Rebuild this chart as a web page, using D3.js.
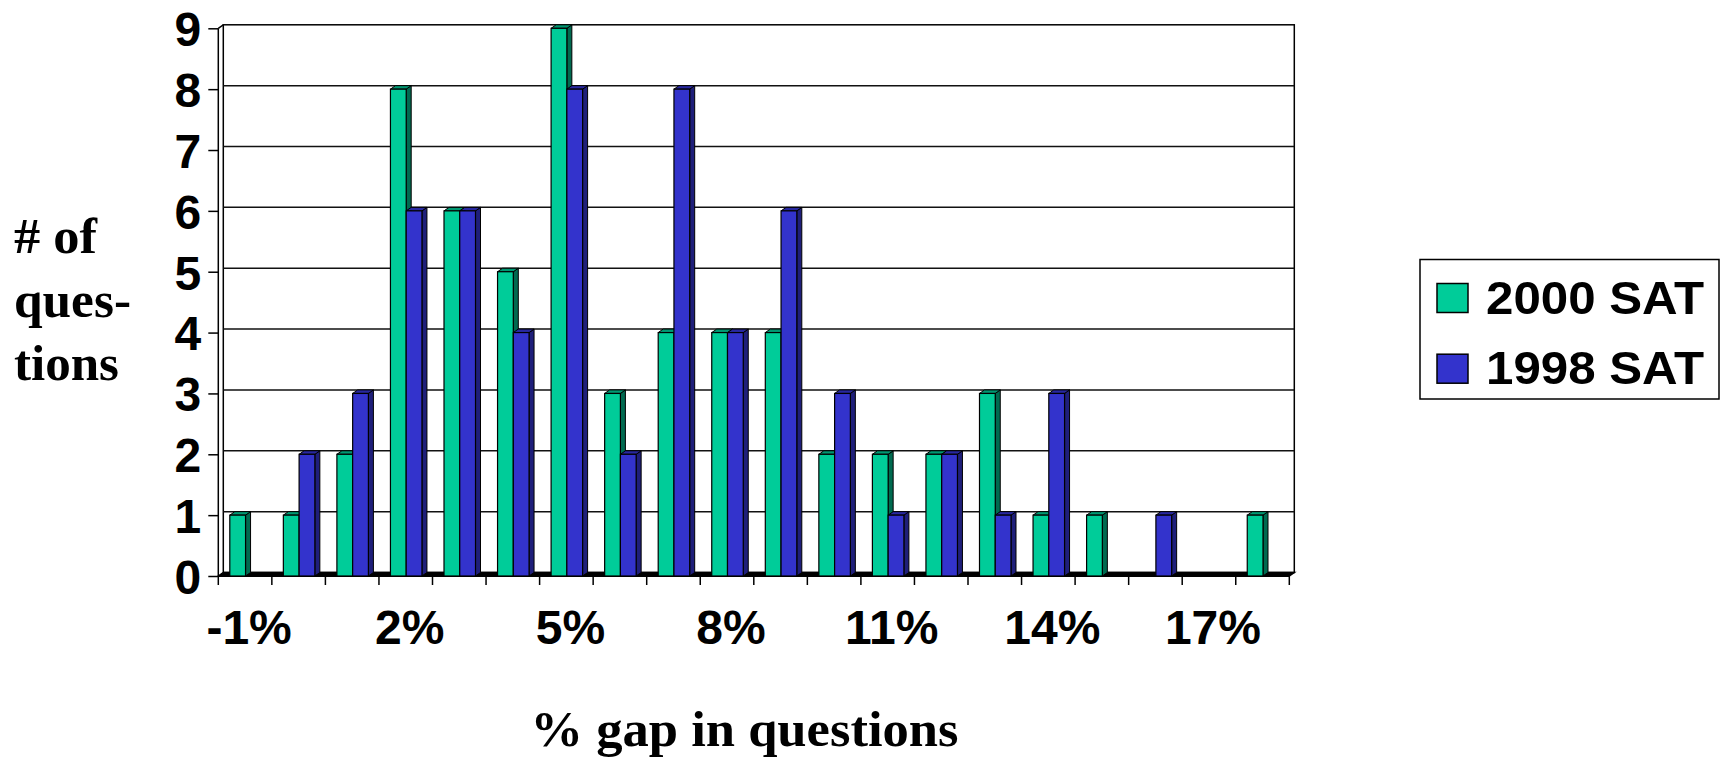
<!DOCTYPE html>
<html>
<head>
<meta charset="utf-8">
<script src="https://cdn.jsdelivr.net/npm/d3@7"></script>
<style>
  html, body { margin: 0; padding: 0; background: #fff; }
  svg { display: block; }
</style>
</head>
<body>
<svg id="chart" width="1729" height="761"></svg>
<script>
// ---- data ----
const categories = ["-1%","0%","1%","2%","3%","4%","5%","6%","7%","8%","9%","10%","11%","12%","13%","14%","15%","16%","17%","18%"];
const seriesNames = ["2000 SAT", "1998 SAT"];
const sat2000 = [1,1,2,8,6,5,9,3,4,4,4,2,2,2,3,1,1,0,0,1];
const sat1998 = [0,2,3,6,6,4,8,2,8,4,6,3,1,2,1,3,0,1,0,0];
const yTicks = [0,1,2,3,4,5,6,7,8,9];
const xTickLabels = ["-1%","2%","5%","8%","11%","14%","17%"];
const yTitleLines = ["# of", "ques-", "tions"];
const xTitle = "% gap in questions";

// ---- styling ----
const colors = {
  "2000 SAT": { front: "#00CC99", side: "#006A50", top: "#009872" },
  "1998 SAT": { front: "#3333CC", side: "#1F1F7A", top: "#2828A0" }
};
const yTitleWidths = [83, 117, 105];
const DX = 5, DY = 3.5;           // 3D depth offset
const svg = d3.select("#chart");

const x = d3.scaleBand().domain(categories).range([218.3, 1289.3]).padding(0);
const xs = d3.scaleBand().domain(seriesNames).range([11.5, 43]).padding(0);
const y = d3.scaleLinear().domain([0, 9]).range([576, 28.3]);

const plotL = x.range()[0], plotR = x.range()[1];
const y0 = y(0);

// back wall
const back = svg.append("g");
back.append("rect")
  .attr("x", plotL + DX).attr("y", y(9) - DY)
  .attr("width", plotR - plotL).attr("height", y0 - y(9))
  .attr("fill", "#fff").attr("stroke", "#000").attr("stroke-width", 1.5);
back.selectAll("line.grid").data(yTicks.filter(d => d > 0 && d < 9)).join("line")
  .attr("class", "grid")
  .attr("x1", plotL + DX).attr("x2", plotR + DX)
  .attr("y1", d => y(d) - DY).attr("y2", d => y(d) - DY)
  .attr("stroke", "#111").attr("stroke-width", 1.5);

back.append("line")
  .attr("x1", plotL).attr("x2", plotL)
  .attr("y1", y(9)).attr("y2", y0)
  .attr("stroke", "#000").attr("stroke-width", 1.5);
back.append("line")
  .attr("x1", plotL).attr("x2", plotL + DX)
  .attr("y1", y(9)).attr("y2", y(9) - DY)
  .attr("stroke", "#000").attr("stroke-width", 1.5);

// floor
back.append("path")
  .attr("d", `M${plotL},${y0} L${plotL + DX},${y0 - DY} L${plotR + DX},${y0 - DY} L${plotR},${y0} Z`)
  .attr("fill", "#000").attr("stroke", "#000").attr("stroke-width", 1.5);

// y axis
const yAxis = d3.axisLeft(y).tickValues(yTicks).tickSize(10).tickPadding(7).tickFormat(d3.format("d"));
const gy = svg.append("g").attr("transform", `translate(${plotL},0)`).call(yAxis);
gy.select(".domain").remove();
gy.selectAll(".tick line").attr("stroke", "#000").attr("stroke-width", 1.5);
gy.selectAll(".tick text")
  .attr("fill", "#000")
  .style("font-family", "'Liberation Sans', Arial, sans-serif")
  .style("font-weight", "bold")
  .style("font-size", "48px")
  .attr("dy", "0.36em");

// x axis ticks at category boundaries
const boundaries = categories.map(c => x(c)).concat([plotR]);
svg.append("g").selectAll("line").data(boundaries).join("line")
  .attr("x1", d => d).attr("x2", d => d)
  .attr("y1", y0).attr("y2", y0 + 9)
  .attr("stroke", "#000").attr("stroke-width", 1.5);
svg.append("line")
  .attr("x1", plotL).attr("x2", plotR).attr("y1", y0).attr("y2", y0)
  .attr("stroke", "#000").attr("stroke-width", 2);

// x tick labels
svg.append("g").selectAll("text").data(xTickLabels).join("text")
  .attr("x", d => x(d) + x.bandwidth() / 2 + 4)
  .attr("y", 644)
  .attr("text-anchor", "middle")
  .style("font-family", "'Liberation Sans', Arial, sans-serif")
  .style("font-weight", "bold")
  .style("font-size", "48px")
  .text(d => d);

// bars (3D)
const barData = [];
categories.forEach((c, i) => {
  [["2000 SAT", sat2000[i]], ["1998 SAT", sat1998[i]]].forEach(([s, v]) => {
    if (v > 0) barData.push({ cat: c, series: s, value: v });
  });
});
const bars = svg.append("g");
barData.forEach(d => {
  const xa = x(d.cat) + xs(d.series);
  const xb = xa + xs.bandwidth();
  const yt = y(d.value);
  const c = colors[d.series];
  const g = bars.append("g");
  g.append("path")
    .attr("d", `M${xb},${yt} L${xb + DX},${yt - DY} L${xb + DX},${y0 - DY} L${xb},${y0} Z`)
    .attr("fill", c.side).attr("stroke", "#000").attr("stroke-width", 1).attr("stroke-linejoin", "round");
  g.append("path")
    .attr("d", `M${xa},${yt} L${xa + DX},${yt - DY} L${xb + DX},${yt - DY} L${xb},${yt} Z`)
    .attr("fill", c.top).attr("stroke", "#000").attr("stroke-width", 1).attr("stroke-linejoin", "round");
  g.append("rect")
    .attr("x", xa).attr("y", yt)
    .attr("width", xb - xa).attr("height", y0 - yt)
    .attr("fill", c.front).attr("stroke", "#000").attr("stroke-width", 1.2);
});

// y title
svg.append("g").selectAll("text").data(yTitleLines).join("text")
  .attr("x", 14)
  .attr("y", (d, i) => 253 + i * 63.5)
  .attr("textLength", (d, i) => yTitleWidths[i])
  .attr("lengthAdjust", "spacingAndGlyphs")
  .style("font-family", "'Liberation Serif', 'Times New Roman', serif")
  .style("font-weight", "bold")
  .style("font-size", "51px")
  .text(d => d);

// x title
svg.append("text")
  .attr("x", 744.5).attr("y", 746)
  .attr("text-anchor", "middle")
  .attr("textLength", 428)
  .attr("lengthAdjust", "spacingAndGlyphs")
  .style("font-family", "'Liberation Serif', 'Times New Roman', serif")
  .style("font-weight", "bold")
  .style("font-size", "51px")
  .text(xTitle);

// legend
const leg = svg.append("g");
leg.append("rect")
  .attr("x", 1420).attr("y", 259.5).attr("width", 299).attr("height", 139.5)
  .attr("fill", "#fff").attr("stroke", "#000").attr("stroke-width", 1.5);
const legItems = leg.selectAll("g.item").data(seriesNames).join("g")
  .attr("class", "item")
  .attr("transform", (d, i) => `translate(0,${i * 70.7})`);
legItems.append("rect")
  .attr("x", 1437).attr("y", 283.5).attr("width", 31).attr("height", 29)
  .attr("fill", d => colors[d].front).attr("stroke", "#000").attr("stroke-width", 1.5);
legItems.append("text")
  .attr("x", 1486).attr("y", 313.5)
  .attr("textLength", 218)
  .attr("lengthAdjust", "spacingAndGlyphs")
  .style("font-family", "'Liberation Sans', Arial, sans-serif")
  .style("font-weight", "bold")
  .style("font-size", "47px")
  .text(d => d);
</script>
</body>
</html>
